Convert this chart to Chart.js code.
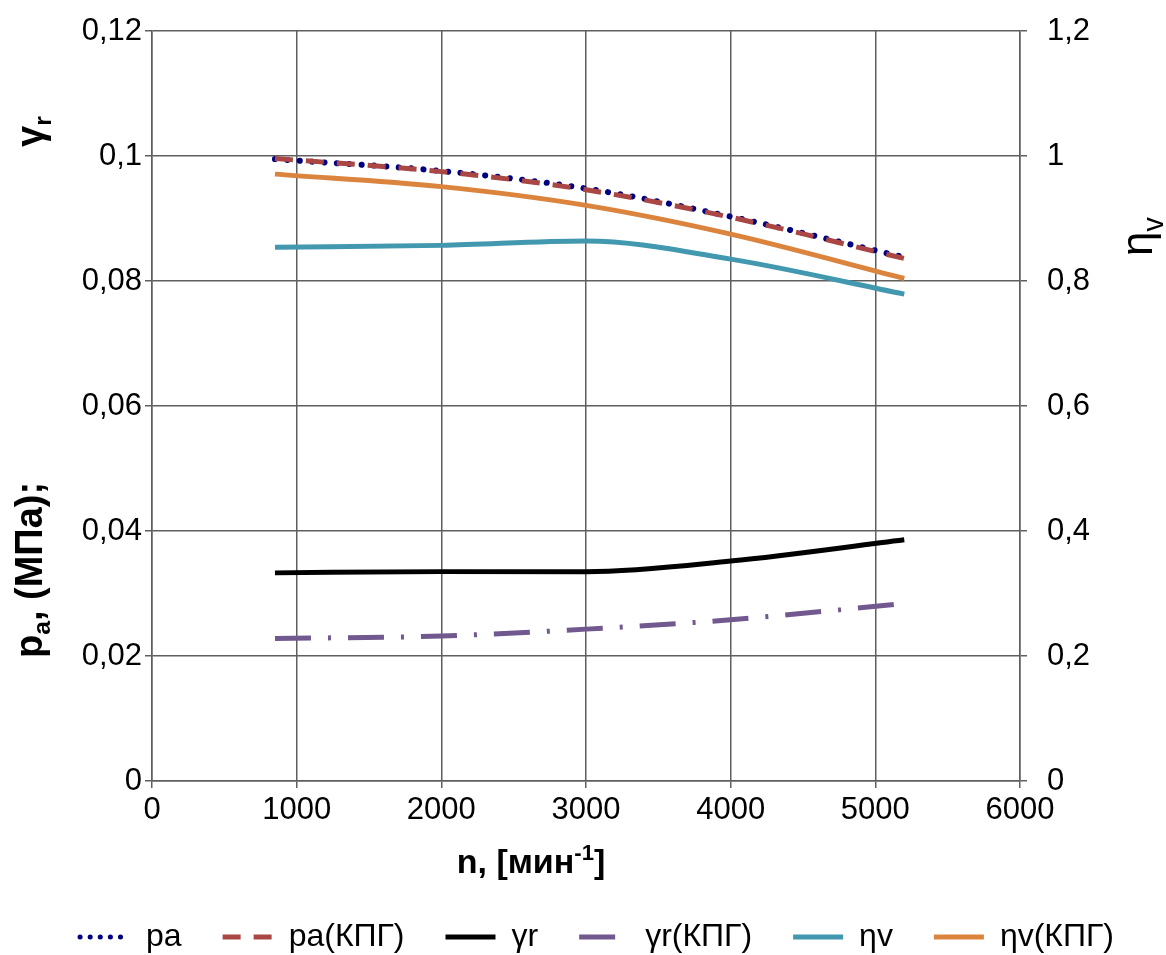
<!DOCTYPE html>
<html>
<head>
<meta charset="utf-8">
<script src="https://cdn.jsdelivr.net/npm/chart.js@4.4.1/dist/chart.umd.min.js"></script>
<style>
  html, body { margin: 0; padding: 0; background: #fff; }
  #wrap { width: 1166px; height: 955px; }
</style>
</head>
<body>
<div id="wrap"><canvas id="chart"></canvas></div>
<script>
// частота вращения n, мин-1
const nValues = [850, 2000, 3000, 4000, 5200];

// pa, МПа (левая ось)
const pa    = [0.0995, 0.0976, 0.0948, 0.0903, 0.0838];
const paCNG = [0.0996, 0.0975, 0.0946, 0.0902, 0.0836];
// γr (левая ось)
const gammaR    = [0.0333, 0.0335, 0.0335, 0.0352, 0.0386];
const gammaRCNG = [0.0228, 0.0232, 0.0243, 0.0258, 0.0284];
// ηv (правая ось)
const etaV    = [0.854, 0.857, 0.864, 0.835, 0.779];
const etaVCNG = [0.971, 0.951, 0.921, 0.875, 0.804];

// подписи осей
const leftTickLabels  = ['0', '0,02', '0,04', '0,06', '0,08', '0,1', '0,12'];
const rightTickLabels = ['0', '0,2', '0,4', '0,6', '0,8', '1', '1,2'];

const FONT = "'Liberation Sans', Arial, sans-serif";
const gridColor = '#5f5f5f';

Chart.defaults.font.family = FONT;
Chart.defaults.color = '#000';

const toPts = ys => ys.map((y, i) => ({ x: nValues[i], y: y }));

// текст с индексами: m = 1 - нижний, m = 2 - верхний
function drawRich(ctx, parts, x, y, rot, weight, size, center, subShift) {
  ctx.save();
  ctx.translate(x, y);
  ctx.rotate(rot);
  ctx.textBaseline = 'alphabetic';
  ctx.textAlign = 'left';
  let total = 0;
  parts.forEach(p => {
    ctx.font = weight + ' ' + (p.m ? size * 0.65 : size) + 'px ' + FONT;
    total += ctx.measureText(p.t).width;
  });
  let cx = center ? -total / 2 : 0;
  parts.forEach(p => {
    const s = p.m ? size * 0.65 : size;
    ctx.font = weight + ' ' + s + 'px ' + FONT;
    const dy = p.m === 1 ? size * (subShift || 0.2) : (p.m === 2 ? -size * 0.38 : 0);
    ctx.fillText(p.t, cx, dy);
    cx += ctx.measureText(p.t).width;
  });
  ctx.restore();
}

const axisTitles = {
  id: 'axisTitles',
  afterDraw(chart) {
    const ctx = chart.ctx;
    const a = chart.chartArea;
    ctx.fillStyle = '#000';
    // левая ось
    drawRich(ctx, [{t: 'p'}, {t: 'a', m: 1}, {t: ', (МПа);'}], 42, a.bottom - 123, -Math.PI / 2, 'bold', 38);
    drawRich(ctx, [{t: 'γ'}, {t: 'r', m: 1}], 43, a.top + 116, -Math.PI / 2, 'bold', 38);
    // правая ось
    drawRich(ctx, [{t: 'η'}, {t: 'v', m: 1}], 1152, a.top + 225, -Math.PI / 2, 'normal', 44, false, 0.24);
    // ось x
    drawRich(ctx, [{t: 'n, [мин'}, {t: '-1', m: 2}, {t: ']'}], 531, a.bottom + 92, 0, 'bold', 34, true);
  }
};

const ctx = document.getElementById('chart').getContext('2d');
new Chart(ctx, {
  type: 'line',
  data: {
    datasets: [
      { label: 'pa', data: toPts(pa), yAxisID: 'yL', borderColor: '#000080', borderWidth: 6,
        borderDash: [0.1, 12.3], borderCapStyle: 'round', order: 2 },
      { label: 'pa(КПГ)', data: toPts(paCNG), yAxisID: 'yL', borderColor: '#AA4643', borderWidth: 5,
        borderDash: [18, 13], order: 1 },
      { label: 'γr', data: toPts(gammaR), yAxisID: 'yL', borderColor: '#000000', borderWidth: 5, order: 1 },
      { label: 'γr(КПГ)', data: toPts(gammaRCNG), yAxisID: 'yL', borderColor: '#71588F', borderWidth: 5,
        borderDash: [36, 17, 3, 17], order: 1 },
      { label: 'ηv', data: toPts(etaV), yAxisID: 'yR', borderColor: '#4198AF', borderWidth: 5, order: 1 },
      { label: 'ηv(КПГ)', data: toPts(etaVCNG), yAxisID: 'yR', borderColor: '#DB843D', borderWidth: 5, order: 1 }
    ]
  },
  options: {
    responsive: true,
    maintainAspectRatio: false,
    animation: false,
    devicePixelRatio: 1,
    layout: { padding: { top: 31, left: 28, right: 0, bottom: -8 } },
    elements: {
      point: { radius: 0, hoverRadius: 0 },
      line: { cubicInterpolationMode: 'monotone', fill: false }
    },
    plugins: {
      tooltip: { enabled: false },
      legend: {
        position: 'bottom',
        labels: {
          usePointStyle: true,
          pointStyle: 'line',
          pointStyleWidth: 50,
          padding: 41,
          font: { size: 32 },
          color: '#000',
          sort: (a, b) => a.datasetIndex - b.datasetIndex,
          generateLabels(chart) {
            const items = Chart.defaults.plugins.legend.labels.generateLabels(chart);
            items.forEach(it => {
              const ds = chart.data.datasets[it.datasetIndex];
              it.strokeStyle = ds.borderColor;
              it.lineWidth = it.datasetIndex === 0 ? 5 : ds.borderWidth;
              it.lineDash = it.datasetIndex === 0 ? [0.1, 10] : (ds.borderDash || []);
              it.lineCap = ds.borderCapStyle || 'butt';
              it.pointStyle = 'line';
            });
            return items;
          }
        }
      }
    },
    scales: {
      x: {
        type: 'linear', min: 0, max: 6000,
        ticks: { stepSize: 1000, font: { size: 31 }, padding: 4, maxRotation: 0, callback: v => String(v) },
        grid: { color: gridColor, lineWidth: 1.5, tickLength: 7 },
        border: { color: gridColor, width: 1.5 },
        afterFit: s => { s.height = 99; }
      },
      yL: {
        position: 'left', min: 0, max: 0.12,
        ticks: { stepSize: 0.02, font: { size: 31 }, padding: 3, callback: (v, i) => leftTickLabels[i] },
        grid: { color: gridColor, lineWidth: 1.5, tickLength: 7 },
        border: { color: gridColor, width: 1.5 },
        afterFit: s => { s.width = 124; s.paddingTop = 18; s.paddingBottom = 18; }
      },
      yR: {
        position: 'right', min: 0, max: 1.2,
        ticks: { stepSize: 0.2, font: { size: 31 }, padding: 20, callback: (v, i) => rightTickLabels[i] },
        grid: { color: gridColor, lineWidth: 1.5, tickLength: 7, drawOnChartArea: false },
        border: { color: gridColor, width: 1.5 },
        afterFit: s => { s.width = 146; s.paddingTop = 18; s.paddingBottom = 18; }
      }
    }
  },
  plugins: [axisTitles]
});
</script>
</body>
</html>
